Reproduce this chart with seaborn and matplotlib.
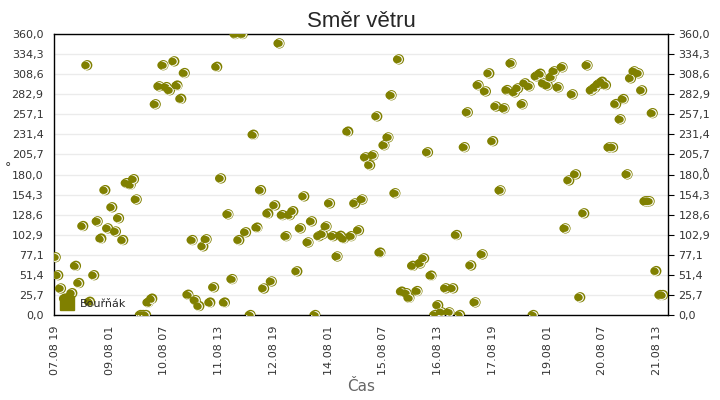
import pandas as pd
import numpy as np
import matplotlib
matplotlib.use('Agg')
import matplotlib.pyplot as plt
import matplotlib.dates as mdates
import matplotlib.transforms as mtransforms
from matplotlib.lines import Line2D
import seaborn as sns

# hours after 07.08 19:00 and wind direction in degrees
hours = [0.4, 1.8, 3.3, 5.5, 7.5, 9.5, 11.5, 13.3, 15.5, 17.7, 19.2, 21.5, 23.4, 25.4, 27.6,
         29.1, 31.4, 33.4, 35.1, 37.4, 39.3, 41.5, 43.3, 44.8, 47.0, 48.4, 49.9, 51.2, 53.3,
         55.2, 57.2, 59.4, 61.2, 63.0, 65.4, 67.1, 69.2, 71.1, 73.1, 75.4, 77.1, 79.1, 81.3,
         83.1, 85.1, 87.2, 88.9, 91.0, 93.1, 95.0, 97.2, 98.9, 101.0, 102.9, 104.7, 107.2,
         108.8, 110.9, 112.9, 114.6, 116.9, 118.8, 120.7, 123.0, 124.8, 126.8, 128.8, 130.6,
         132.8, 134.7, 136.6, 138.9, 140.8, 142.7, 144.8, 146.8, 148.8, 150.7, 152.5, 154.8,
         156.6, 158.4, 160.7, 162.4, 164.5, 166.6, 168.5, 170.4, 172.7, 174.5, 176.6, 178.3,
         180.5, 182.7, 184.4, 186.5, 188.5, 190.1, 192.7, 194.2, 196.2, 198.6, 200.2, 202.3,
         204.4, 206.3, 208.3, 210.0, 212.0, 214.3, 216.1, 218.2, 220.2, 222.0, 224.5, 226.2,
         228.1, 230.4, 232.1, 234.3, 236.1, 238.0, 240.1, 241.8, 244.1, 246.3, 247.9, 250.1,
         252.0, 253.8, 256.2, 257.7, 260.0, 262.2, 263.9, 266.0, 267.9, 270.0, 272.0, 273.7,
         275.9, 278.1, 279.7, 281.8, 283.7, 285.5, 287.8, 290.0, 291.8, 294.1, 296.0, 297.9,
         299.9, 301.9, 303.8, 305.8, 307.5, 309.9, 311.6, 313.7, 315.6, 317.5, 319.8, 321.7,
         323.5, 324.7, 325.8, 327.5, 329.5, 331.7, 333.2]
direction = [74, 51, 34, 21, 22, 28, 63, 41, 114, 320, 17, 51, 120, 98, 160,
             111, 138, 107, 124, 96, 169, 167, 174, 148, 0, 0, 0, 16, 21,
             270, 293, 320, 292, 288, 325, 294, 277, 310, 26, 96, 19, 11.5, 88,
             97, 16, 35.5, 318, 175, 16, 129, 46, 360, 96, 360, 106, 0,
             231, 112, 160, 34, 130, 43, 140.5, 348, 128, 101, 128, 133,
             56, 111, 152, 93, 120, 0, 101, 103.5, 113.5, 143, 101, 75,
             101.5, 98, 235, 101, 143, 108.5, 148, 202, 192, 204.5, 254.5, 80,
             217.5, 227.5, 281.5, 156, 327.5, 30, 28, 22, 63, 30.7, 66, 72.6,
             208.5, 50.5, 0, 12.6, 3.4, 34.2, 3.4, 34.2, 102.5, 0, 215, 259.7,
             63.5, 16.2, 294.4, 77.7, 286.5, 309.6, 222.7, 267.2, 159.7, 264.8, 288.2, 322.4,
             285.3, 290.4, 270, 296.8, 293, 0, 305.8, 309.2, 296.8, 294.2, 304.5, 312.2,
             291.7, 317.3, 111, 172.5, 282.7, 180.2, 22.7, 130.3, 319.8, 287.8, 291.2, 295.5,
             298.9, 294.6, 214.8, 214.8, 270.3, 250.7, 276.7, 180.2, 303.2, 312.2, 309.6, 287.8,
             145.7, 145.7, 145.7, 258.6, 56.3, 25.6, 25.6]
series_name = 'Bouřňák'
y_ticks = np.linspace(0, 360, 15)

start = pd.Timestamp('2019-08-07 19:00')
df = pd.DataFrame({'time': start + pd.to_timedelta(hours, unit='h'), 'deg': direction})

olive = '#808000'
sns.set_style('white')
plt.rcParams['font.family'] = ['DejaVu Sans']

fig = plt.figure(figsize=(7.2, 4), dpi=100)
ax = fig.add_axes([0.075, 0.2125, 0.853, 0.7025])

# marker look: olive disc, white inner arc on the right side
sns.scatterplot(data=df, x='time', y='deg', color=olive, s=55, linewidth=0,
                edgecolor='none', ax=ax, zorder=3)
shift1 = mtransforms.offset_copy(ax.transData, fig=fig, x=-0.8, y=0, units='dots')
ax.scatter(df['time'], df['deg'], s=30, color=olive, edgecolor='white', linewidth=0.8,
           transform=shift1, zorder=4)
shift2 = mtransforms.offset_copy(ax.transData, fig=fig, x=-2.2, y=0, units='dots')
ax.scatter(df['time'], df['deg'], s=30, color=olive, edgecolor='none', linewidth=0,
           transform=shift2, zorder=5)

ax.set_xlim(start - pd.Timedelta(hours=0.5), start + pd.Timedelta(hours=336))
ax.set_ylim(0, 360)
ax.set_yticks(y_ticks)
ax.set_yticklabels([f'{v:.1f}'.replace('.', ',') for v in y_ticks])
ax.set_xticks(pd.date_range(start, periods=12, freq='30h'))
ax.xaxis.set_major_formatter(mdates.DateFormatter('%d.%m %H'))
ax.tick_params(axis='x', rotation=90, labelsize=8, colors='#333333', length=4, direction='out')
ax.tick_params(axis='y', labelsize=8, colors='#333333', length=4, direction='out',
               right=True, labelright=True)
ax.tick_params(axis='both', color='black')
ax.grid(axis='y', color='#ebebeb', linewidth=1)
ax.grid(axis='x', visible=False)
ax.set_axisbelow(True)
for s in ax.spines.values():
    s.set_visible(True)
    s.set_color('black')
    s.set_linewidth(1)

ax.set_title('Směr větru', fontsize=16, family='Liberation Sans', pad=5)
ax.set_xlabel('Čas', fontsize=11, color='#666666', labelpad=3)
ax.set_ylabel('°', fontsize=9, color='#333333', rotation=0)
ax.yaxis.set_label_coords(-0.075, 0.5)
ax.text(1.054, 0.505, '°', transform=ax.transAxes, fontsize=9, color='#333333', va='center')

handle = Line2D([], [], marker='s', color=olive, linestyle='', markersize=10)
ax.legend(handles=[handle], labels=[series_name], loc='lower left', frameon=False,
          fontsize=8, handletextpad=0.5, borderaxespad=0.15, handlelength=1.3)

plt.savefig('out.png', dpi=100)
